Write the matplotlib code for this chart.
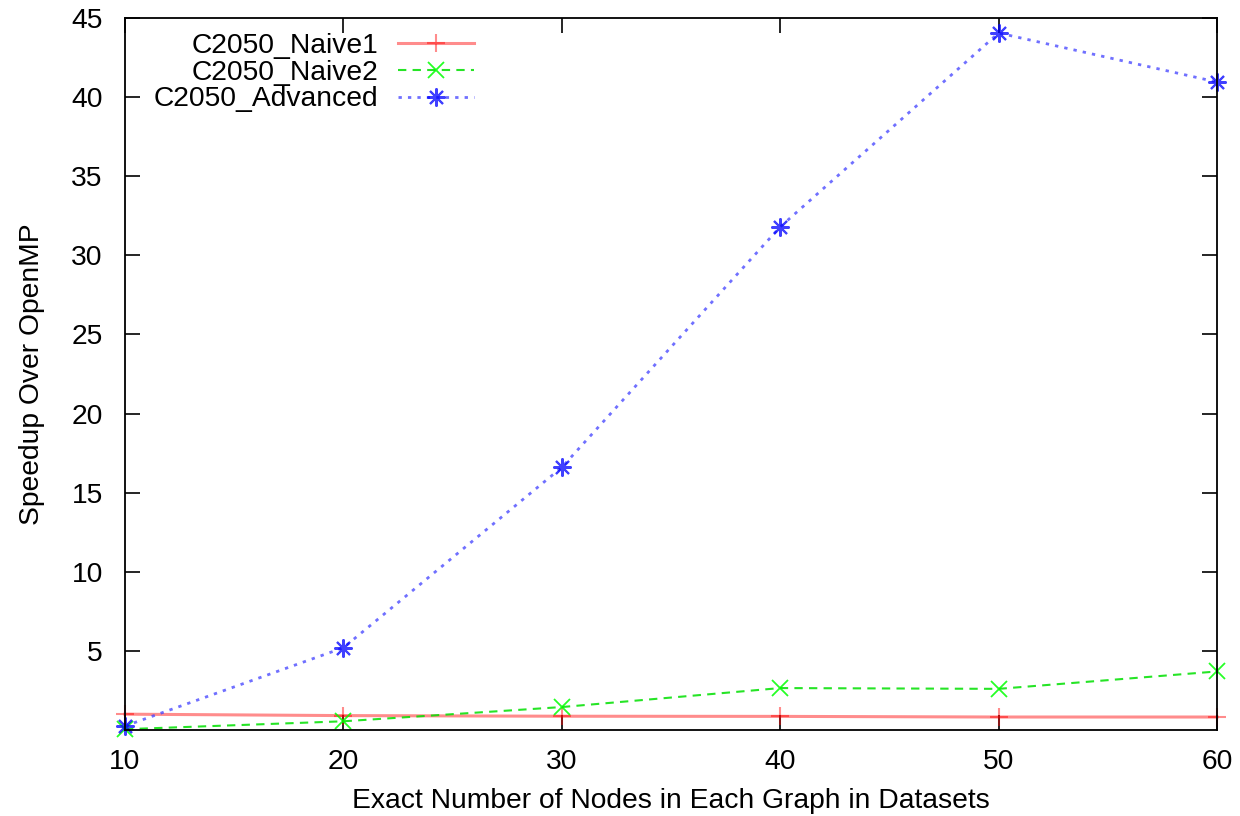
import numpy as np
import matplotlib
matplotlib.use("Agg")
import matplotlib.pyplot as plt

plt.rcParams['font.family'] = ['Liberation Sans', 'DejaVu Sans']

# Data
nodes = [10, 20, 30, 40, 50, 60]
naive1 = [1.0, 0.91, 0.87, 0.86, 0.82, 0.82]
naive2 = [0.05, 0.55, 1.45, 2.65, 2.6, 3.7]
advanced = [0.25, 5.2, 16.6, 31.8, 44.05, 40.95]

fig = plt.figure(figsize=(12.4, 8.16), dpi=100)
ax = fig.add_axes([0.1008, 0.1054, 0.8807, 0.8726])

ax.plot(nodes, naive1, color='#ff0000', linestyle='-', linewidth=2.2, alpha=0.45,
        marker='+', markersize=13, markeredgewidth=1.5, markeredgecolor='#ff0000',
        label='C2050_Naive1', clip_on=False)
ax.plot(nodes, naive2, color='#00e000', linestyle=(0, (4, 3)), linewidth=1.5, alpha=0.85,
        marker='x', markersize=11, markeredgewidth=1.3, markeredgecolor='#00ff00',
        label='C2050_Naive2', clip_on=False)
ax.plot(nodes, advanced, color='#4040ff', linestyle=(0, (1.2, 2.2)), linewidth=2.0, alpha=0.75,
        marker=(8, 2, 0), markersize=13, markeredgewidth=1.5, markeredgecolor='#0000ff',
        label='C2050_Advanced', clip_on=False)

ax.set_xlim(10, 60)
ax.set_ylim(0, 45)
ax.set_xticks(np.arange(10, 61, 10))
ax.set_yticks(np.arange(5, 46, 5))
ax.tick_params(direction='in', length=11, width=1.2, top=True, right=True,
               labelsize=20.3, pad=14)
ax.tick_params(axis='y', pad=16)
for s in ax.spines.values():
    s.set_linewidth(1.3)

ax.set_xlabel('Exact Number of Nodes in Each Graph in Datasets', fontsize=20.3, labelpad=9)
ax.set_ylabel('Speedup Over OpenMP', fontsize=20.3, labelpad=19)

leg = ax.legend(loc='upper left', markerfirst=False, frameon=False, fontsize=20.3,
                handlelength=2.7, labelspacing=0.02, handletextpad=0.7,
                bbox_to_anchor=(0.003, 1.014))
for col in leg._legend_handle_box.get_children():
    col.align = 'right'

fig.savefig('out.png', dpi=100)
